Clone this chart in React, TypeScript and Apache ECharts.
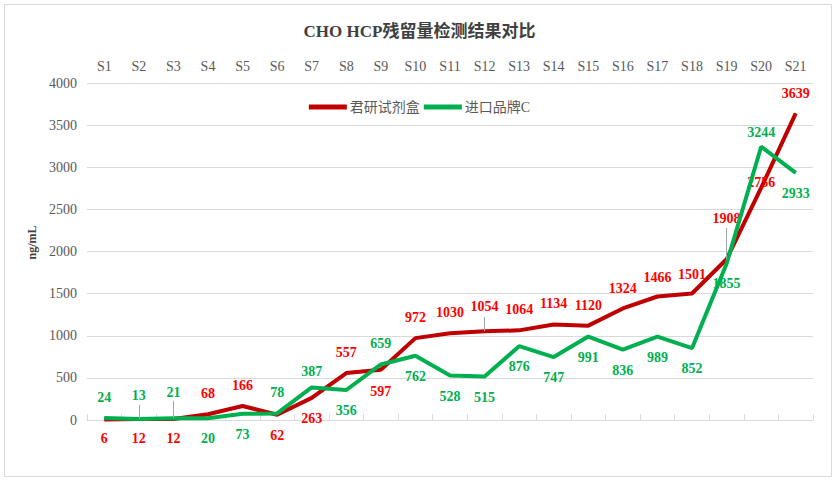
import React, { useEffect, useRef } from "react";
import * as echarts from "echarts";

const categories = ["S1","S2","S3","S4","S5","S6","S7","S8","S9","S10","S11","S12","S13","S14","S15","S16","S17","S18","S19","S20","S21"];
const seriesNames = ["君研试剂盒", "进口品牌C"];
const junyanValues = [6,12,12,68,166,62,263,557,597,972,1030,1054,1064,1134,1120,1324,1466,1501,1908,2756,3639];
const importValues = [24,13,21,20,73,78,387,356,659,762,528,515,876,747,991,836,989,852,1855,3244,2933];
const yTicks = { min: 0, max: 4000, interval: 500 };

// Layout: vertical offset (px) of each label centre from its point (negative = above)
const junyanLabelOffsets = [19,19,19,-20,-20,20,20,-20,21,-20,-20,-24,-20,-20,-20,-19,-19,-19,-40,-5,-19];
const importLabelOffsets = [-20,-23,-25,20,20,-20,-15,20,-20,20,20,20,20,20,20,20,20,20,19,-14,20];
// Leader lines: [category index, extra value above point]
const junyanLeaders = [[11, 170], [18, 370]];
const importLeaders = [[1, 165], [2, 205]];

const SERIF = "'Times New Roman', 'Liberation Serif', 'Noto Sans CJK SC', serif";

function buildLabels(values: number[], offsets: number[], shiftLast: boolean) {
  return values.map((v, i) => {
    const off = offsets[i];
    const d: any = { value: v };
    d.label = {
      position: off < 0 ? "top" : "bottom",
      distance: Math.abs(off) - 7,
    };
    if (shiftLast && i === 19) d.label.offset = [2, 0];
    return d;
  });
}

function leaderData(values: number[], leaders: number[][]) {
  return leaders.map(([idx, extra]) => [
    { coord: [categories[idx], values[idx]] },
    { coord: [categories[idx], values[idx] + extra] },
  ]);
}

export default function App() {
  const ref = useRef<HTMLDivElement>(null);
  useEffect(() => {
    if (!ref.current) return;
    const chart = echarts.init(ref.current, null, { renderer: "svg" });
    const labelBase = {
      show: true,
      fontFamily: SERIF,
      fontSize: 14,
      fontWeight: "bold",
    };
    chart.setOption({
      animation: false,
      backgroundColor: "#FFFFFF",
      title: {
        text: "CHO HCP残留量检测结果对比",
        left: "center",
        top: 18,
        textStyle: { fontFamily: SERIF, fontSize: 17, fontWeight: "bold", color: "#404040" },
      },
      legend: {
        data: seriesNames,
        left: "center",
        top: 95,
        icon: "rect",
        itemWidth: 38,
        itemHeight: 5,
        itemGap: 4,
        textStyle: { fontFamily: SERIF, fontSize: 14, color: "#595959", padding: [0, 0, 0, -2] },
      },
      graphic: [
        {
          type: "rect",
          shape: { x: 4.5, y: 4.5, width: 827, height: 472 },
          style: { fill: "none", stroke: "#D9D9D9", lineWidth: 1 },
          silent: true,
          z: -1,
        },
      ],
      grid: { left: 87, right: 26, top: 83, bottom: 63 },
      xAxis: [
        {
          type: "category",
          data: categories,
          position: "bottom",
          boundaryGap: true,
          axisLine: { show: true, lineStyle: { color: "#D9D9D9", width: 1 } },
          axisTick: { show: true, inside: true, length: 6, lineStyle: { color: "#D9D9D9" } },
          axisLabel: { show: false },
        },
        {
          type: "category",
          data: categories,
          position: "top",
          boundaryGap: true,
          axisLine: { show: false },
          axisTick: { show: false },
          axisLabel: { show: true, margin: 10, fontFamily: SERIF, fontSize: 14, color: "#595959" },
        },
      ],
      yAxis: {
        type: "value",
        min: yTicks.min,
        max: yTicks.max,
        interval: yTicks.interval,
        name: "ng/mL",
        nameLocation: "middle",
        nameGap: 46,
        nameRotate: 90,
        nameTextStyle: { fontFamily: SERIF, fontSize: 12, fontWeight: "bold", color: "#404040", padding: [0, 0, 0, 18] },
        axisLine: { show: false },
        axisTick: { show: false },
        axisLabel: { fontFamily: SERIF, fontSize: 14, color: "#595959", margin: 10, formatter: (v: number) => String(v) },
        splitLine: { lineStyle: { color: "#D9D9D9", width: 1 } },
      },
      series: [
        {
          name: seriesNames[0],
          type: "line",
          xAxisIndex: 0,
          data: buildLabels(junyanValues, junyanLabelOffsets, true),
          showSymbol: true,
          symbol: "circle",
          symbolSize: 1,
          lineStyle: { color: "#C00000", width: 4 },
          itemStyle: { color: "#C00000" },
          label: { ...labelBase, color: "#FF0000" },
          labelLayout: { hideOverlap: false },
          markLine: {
            silent: true,
            symbol: ["none", "none"],
            label: { show: false },
            lineStyle: { color: "#A6A6A6", width: 1, type: "solid" },
            data: leaderData(junyanValues, junyanLeaders),
          },
          z: 2,
        },
        {
          name: seriesNames[1],
          type: "line",
          xAxisIndex: 0,
          data: buildLabels(importValues, importLabelOffsets, false),
          showSymbol: true,
          symbol: "circle",
          symbolSize: 1,
          lineStyle: { color: "#00B050", width: 4 },
          itemStyle: { color: "#00B050" },
          label: { ...labelBase, color: "#00B050" },
          labelLayout: { hideOverlap: false },
          markLine: {
            silent: true,
            symbol: ["none", "none"],
            label: { show: false },
            lineStyle: { color: "#A6A6A6", width: 1, type: "solid" },
            data: leaderData(importValues, importLeaders),
          },
          z: 3,
        },
      ],
    });
    return () => chart.dispose();
  }, []);
  return <div ref={ref} style={{ position: "absolute", left: 0, top: 0, width: 839, height: 483 }} />;
}
